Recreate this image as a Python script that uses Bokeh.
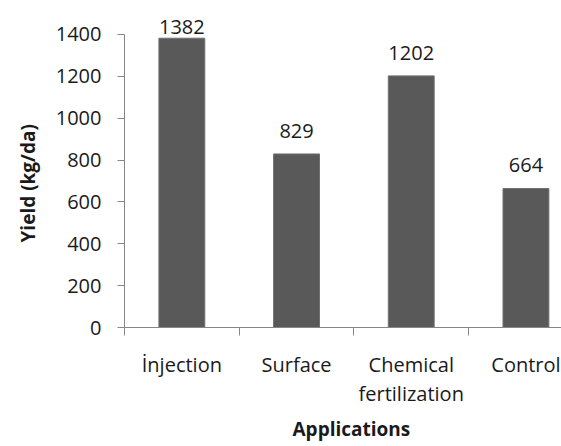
from bokeh.plotting import figure
from bokeh.models import ColumnDataSource, FixedTicker, LabelSet, Range1d, Title
from bokeh.core.properties import value
from bokeh.embed import file_html
from bokeh.resources import INLINE

# Yield by application method
categories = ["İnjection", "Surface", "Chemical\nfertilization", "Control"]
yields = [1382, 829, 1202, 664]
y_ticks = [0, 200, 400, 600, 800, 1000, 1200, 1400]

FONT = "Open Sans"
AXIS_GRAY = "#868686"
BAR_GRAY = "#595959"
TEXT = "#1a1a1a"

centers = [i + 0.5 for i in range(len(categories))]
# labels sit above the bar, but are kept below the top of the value axis
label_y = [min(v + 78, 1403) for v in yields]

src = ColumnDataSource(dict(
    x=centers,
    top=yields,
    ly=label_y,
    txt=[str(v) for v in yields],
))

p = figure(width=561, height=446, output_backend="svg", toolbar_location=None,
           x_range=Range1d(0, 3.81), y_range=Range1d(0, 1500),
           min_border_left=124, min_border_right=0,
           min_border_top=13, min_border_bottom=119)
p.outline_line_color = None
p.xgrid.visible = False
p.ygrid.visible = False
p.background_fill_color = "white"
p.border_fill_color = "white"

p.vbar(x="x", top="top", width=0.4, source=src,
       fill_color=BAR_GRAY, line_color="#707070", line_width=1)

# value labels above bars
p.add_layout(LabelSet(x="x", y="ly", text="txt", source=src,
                      text_align="center", text_baseline="alphabetic",
                      text_font=value(FONT), text_font_size="20px", text_color=TEXT))

# x axis: labels at category centers, tick marks at category boundaries
xa = p.xaxis[0]
xa.ticker = FixedTicker(ticks=centers, minor_ticks=[0, 1, 2, 3])
xa.major_label_overrides = {c: lab for c, lab in zip(centers, categories)}
xa.major_tick_line_color = None
xa.major_tick_in = 0
xa.major_tick_out = 0
xa.minor_tick_in = 0
xa.minor_tick_out = 8
xa.minor_tick_line_color = AXIS_GRAY
xa.axis_line_color = AXIS_GRAY
xa.major_label_text_font = FONT
xa.major_label_text_font_size = "20px"
xa.major_label_text_color = TEXT
xa.major_label_text_line_height = 1.1
xa.major_label_standoff = 15

ya = p.yaxis[0]
ya.ticker = FixedTicker(ticks=y_ticks)
ya.bounds = (0, 1400)
ya.minor_tick_line_color = None
ya.major_tick_in = 0
ya.major_tick_out = 7
ya.major_tick_line_color = AXIS_GRAY
ya.axis_line_color = AXIS_GRAY
ya.major_label_text_font = FONT
ya.major_label_text_font_size = "20px"
ya.major_label_text_color = TEXT
ya.major_label_standoff = 16

# axis titles
p.add_layout(Title(text="Applications", align="left", offset=168, standoff=6,
                   text_baseline="alphabetic",
                   text_font=FONT, text_font_size="19px", text_font_style="bold",
                   text_color=TEXT), "below")
p.add_layout(Title(text="Yield (kg/da)", align="left", offset=85, standoff=20,
                   vertical_align="top",
                   text_font=FONT, text_font_size="19px", text_font_style="bold",
                   text_color=TEXT), "left")

open("out.html", "w").write(file_html(p, INLINE))
